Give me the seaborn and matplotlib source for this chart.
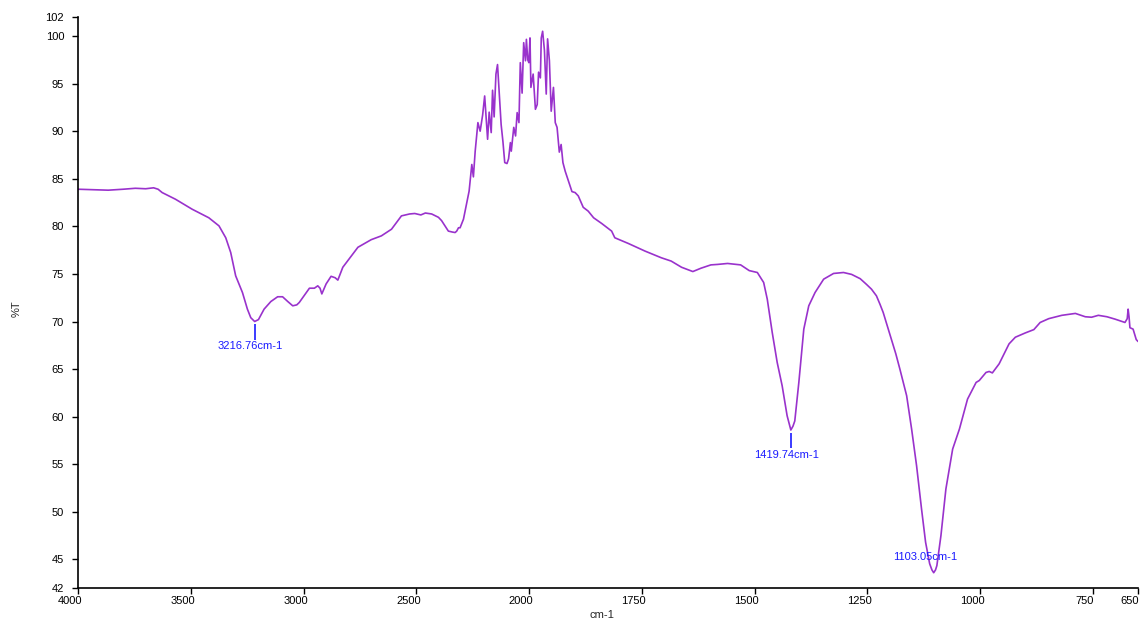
import numpy as np
import pandas as pd
import matplotlib
matplotlib.use("Agg")
import matplotlib.pyplot as plt
from matplotlib.transforms import ScaledTranslation
import seaborn as sns

# FTIR transmittance spectrum (wavenumber in cm-1, transmittance in %T)
wavenumber = [
    4000, 3930, 3866, 3800, 3746, 3700, 3665, 3645, 3627, 3568,
    3494, 3420, 3375, 3345, 3323, 3301, 3271, 3249, 3234, 3216.76,
    3200, 3175, 3145, 3115, 3093, 3070, 3048, 3030, 3019, 2974,
    2952, 2937, 2927, 2919, 2900, 2878, 2860, 2848, 2826, 2759,
    2700, 2655, 2610, 2566, 2530, 2507, 2480, 2460, 2432, 2402,
    2388, 2373, 2358, 2340, 2328, 2321, 2313, 2306, 2291, 2276,
    2266, 2254, 2247, 2239, 2227, 2217, 2206, 2197, 2190, 2184,
    2177, 2168, 2162, 2155, 2147, 2140, 2132, 2124, 2116, 2108,
    2098, 2091, 2083, 2079, 2068, 2060, 2053, 2045, 2039, 2031,
    2024, 2016, 2012, 2006, 2001, 1998, 1996, 1991, 1986, 1982,
    1979, 1975, 1973, 1970, 1966, 1962, 1959, 1955, 1951, 1946,
    1942, 1938, 1933, 1929, 1925, 1920, 1913, 1905, 1898, 1891,
    1880, 1869, 1857, 1839, 1832, 1817, 1810, 1780, 1743, 1707,
    1685, 1662, 1637, 1619, 1597, 1582, 1560, 1531, 1512, 1494,
    1480, 1472, 1461, 1450, 1439, 1428, 1422, 1419.74, 1415, 1411,
    1402, 1391, 1380, 1366, 1347, 1325, 1303, 1285, 1266, 1252,
    1241, 1230, 1222, 1215, 1206, 1197, 1187, 1178, 1163, 1152,
    1141, 1130, 1121, 1112, 1107, 1103.05, 1099, 1096, 1087, 1076,
    1061, 1046, 1028, 1009, 1002, 987, 980, 973, 958, 936,
    922, 900, 881, 867, 848, 819, 789, 767, 753, 738,
    719, 701, 679, 674, 672, 670, 668, 661, 654, 650,
]
transmittance = [
    83.9, 83.85, 83.8, 83.9, 84.0, 83.95, 84.05, 83.9, 83.55, 82.85,
    81.8, 80.9, 80.05, 78.8, 77.25, 74.8, 73.05, 71.3, 70.4, 70.0,
    70.2, 71.3, 72.1, 72.6, 72.6, 72.1, 71.65, 71.75, 72.0, 73.5,
    73.5, 73.75, 73.5, 72.9, 73.95, 74.75, 74.6, 74.35, 75.7, 77.8,
    78.6, 79.0, 79.7, 81.1, 81.3, 81.35, 81.2, 81.4, 81.3, 80.95,
    80.6, 80.05, 79.5, 79.4, 79.35, 79.5, 79.85, 79.85, 80.75, 82.5,
    83.7, 86.5, 85.2, 87.9, 90.9, 90.0, 91.7, 93.7, 91.3, 89.15,
    92.0, 89.85, 94.3, 91.5, 96.0, 97.0, 93.9, 90.7, 88.9, 86.7,
    86.6, 87.1, 88.8, 87.9, 90.4, 89.5, 91.95, 90.9, 97.2, 94.0,
    99.3, 97.4, 99.65, 97.5, 97.2, 99.8, 94.6, 96.0, 92.3, 92.8,
    96.2, 95.6, 99.8, 100.5, 98.5, 93.9, 99.7, 97.4, 92.1, 94.6,
    90.9, 90.4, 87.8, 88.6, 86.7, 85.8, 84.8, 83.65, 83.55, 83.2,
    82.0, 81.6, 80.9, 80.3, 80.05, 79.5, 78.8, 78.2, 77.4, 76.7,
    76.35, 75.7, 75.25, 75.6, 75.95, 76.0, 76.1, 75.95, 75.35, 75.15,
    74.1, 72.35, 68.85, 65.7, 63.25, 60.1, 59.0, 58.6, 59.0, 59.55,
    63.6, 69.2, 71.65, 73.05, 74.45, 75.05, 75.15, 74.95, 74.5, 73.9,
    73.4, 72.7, 71.8, 70.95, 69.55, 68.15, 66.6, 65.0, 62.2, 58.7,
    54.85, 50.3, 46.8, 44.55, 43.9, 43.6, 43.9, 44.35, 47.5, 52.4,
    56.6, 58.7, 61.85, 63.6, 63.8, 64.65, 64.75, 64.6, 65.55, 67.65,
    68.35, 68.8, 69.15, 69.9, 70.3, 70.65, 70.85, 70.5, 70.45, 70.65,
    70.5, 70.25, 69.9, 70.3, 71.3, 70.5, 69.35, 69.2, 68.1, 67.9,
]

# Labelled absorption bands
peak_wavenumbers = [3216.76, 1419.74, 1103.05]
peak_labels = ["3216.76cm-1", "1419.74cm-1", "1103.05cm-1"]

x_ticks = [4000, 3500, 3000, 2500, 2000, 1750, 1500, 1250, 1000, 750, 650]
y_ticks = [42, 45, 50, 55, 60, 65, 70, 75, 80, 85, 90, 95, 100, 102]

spectrum = pd.DataFrame({"wavenumber": wavenumber, "T": transmittance})

sns.set_style("ticks")
plt.rcParams["font.family"] = ["Liberation Sans", "DejaVu Sans"]

fig = plt.figure(figsize=(11.44, 6.22), dpi=100)
ax = fig.add_axes([0.0682, 0.0547, 0.9266, 0.918])


# Below 2000 cm-1 the axis is stretched by a factor of two
def _fwd(x):
    x = np.asarray(x, dtype=float)
    return np.where(x >= 2000, x, 2 * x - 2000)


def _inv(t):
    t = np.asarray(t, dtype=float)
    return np.where(t >= 2000, t, (t + 2000) / 2)


ax.set_xscale("function", functions=(_fwd, _inv))

sns.lineplot(data=spectrum, x="wavenumber", y="T", sort=False, estimator=None,
             color="#9932CC", linewidth=1.2, ax=ax)

ax.set_xlim(4000, 650)
ax.set_ylim(42, 102)
ax.set_xticks(x_ticks)
ax.set_xticklabels([str(v) for v in x_ticks])
ax.set_yticks(y_ticks)
ax.set_yticklabels([str(v) for v in y_ticks])
ax.xaxis.set_minor_locator(matplotlib.ticker.NullLocator())

ax.tick_params(axis="both", direction="out", labelsize=8, colors="black",
               width=1.0, length=4)
ax.tick_params(axis="x", pad=2)
ax.tick_params(axis="y", pad=6)
for lbl in ax.get_xticklabels():
    lbl.set_transform(lbl.get_transform() +
                      ScaledTranslation(-8 / 100, 0, fig.dpi_scale_trans))

sns.despine(ax=ax)
for side in ("left", "bottom"):
    ax.spines[side].set_linewidth(1.2)
    ax.spines[side].set_color("black")

ax.set_xlabel("cm-1", fontsize=8)
ax.set_ylabel("%T", fontsize=8)
ax.xaxis.set_label_coords(0.494, -0.038)
ax.yaxis.set_label_coords(-0.053, 0.49)

# Peak markers and labels
peak_color = "#1a1aff"
lookup = dict(zip(wavenumber, transmittance))
for wn, text in zip(peak_wavenumbers, peak_labels):
    t = lookup[wn]
    if t - 42 > 8:
        ax.vlines(wn, t - 1.9, t - 0.3, color=peak_color, linewidth=1.2)
        ax.annotate(text, xy=(wn, t - 2.1), xytext=(-3, 0),
                    textcoords="offset points", color=peak_color, fontsize=8,
                    ha="center", va="top")
    else:
        ax.annotate(text, xy=(wn, t + 1.7), xytext=(-6, 0),
                    textcoords="offset points", color=peak_color, fontsize=8,
                    ha="center", va="center")

fig.savefig("out.png", dpi=100, facecolor="white")
